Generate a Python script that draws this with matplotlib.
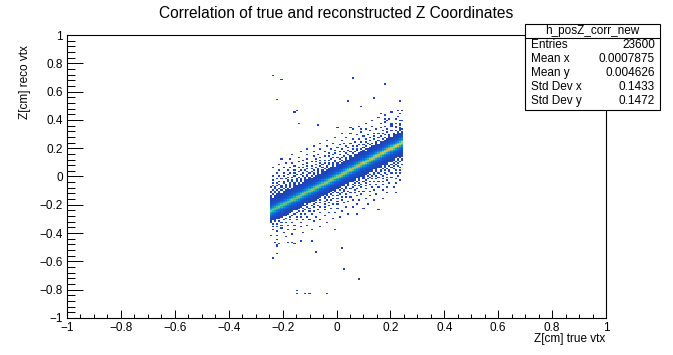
import numpy as np
import matplotlib
matplotlib.use('Agg')
import matplotlib.pyplot as plt
from matplotlib.colors import LinearSegmentedColormap
from matplotlib.patches import Rectangle
from matplotlib.lines import Line2D
from matplotlib.ticker import MultipleLocator, FuncFormatter

plt.rcParams['font.family'] = ['Liberation Sans', 'DejaVu Sans']

# TH2 binning
n_xbins = 250
n_ybins = 200

# band of well reconstructed vertices
band_x = [-0.25, 0.0, 0.25]
band_y = [-0.250, -0.005, 0.245]
band_peak = [55, 65, 78]     # counts in hottest cell of a column
z_max = 95

# core shape: fraction of peak vs |reco - band centre|
core_dr = [0.00, 0.01, 0.02, 0.03, 0.04, 0.05, 0.06, 0.07, 0.08, 0.09]
core_rel = [1.00, 0.75, 0.40, 0.18, 0.08, 0.04, 0.022, 0.012, 0.005, 0.0]

# wide halo of badly reconstructed ones (mean entries per cell)
halo_y = [-0.205, -0.005, 0.21]
halo_dr = [0.00, 0.05, 0.10, 0.15, 0.20, 0.25, 0.30, 0.35, 0.40]
halo_n = [0.70, 0.62, 0.42, 0.25, 0.15, 0.09, 0.05, 0.02, 0.0]

# isolated entries far from the band
out_x = [-0.238, -0.203, 0.061, 0.181, -0.223, -0.150, -0.154, -0.138, -0.064, 0.046,
         0.140, 0.096, 0.236, 0.240, 0.236, 0.160, 0.181, 0.190, 0.002, 0.056,
         0.096, 0.201, 0.217, 0.233, 0.242, 0.236,
         -0.228, -0.213, -0.216, -0.179, -0.159, -0.094, -0.223, -0.233, -0.073, 0.022,
         0.032, 0.086, -0.148, -0.148, -0.118, -0.098, -0.034]
out_y = [0.717, 0.689, 0.698, 0.656, 0.541, 0.465, 0.451, 0.376, 0.364, 0.536,
         0.550, 0.491, 0.531, 0.465, 0.442, 0.442, 0.404, 0.394, 0.341, 0.343,
         0.331, 0.364, 0.359, 0.376, 0.399, 0.334,
         -0.468, -0.477, -0.500, -0.470, -0.477, -0.451, -0.548, -0.571, -0.531, -0.503,
         -0.654, -0.729, -0.807, -0.830, -0.830, -0.825, -0.830]

stats_names = ['Entries', 'Mean x', 'Mean y', 'Std Dev x', 'Std Dev y']
stats_vals = ['23600', '0.0007875', '0.004626', '0.1433', '0.1472']

# ROOT kBird palette
bird_r = [0.2082, 0.0592, 0.0780, 0.0232, 0.1802, 0.5301, 0.8186, 0.9956, 0.9764]
bird_g = [0.1664, 0.3599, 0.5041, 0.6419, 0.7178, 0.7492, 0.7328, 0.7862, 0.9832]
bird_b = [0.5293, 0.8684, 0.8385, 0.7914, 0.6425, 0.4662, 0.3499, 0.1968, 0.0539]
bird = LinearSegmentedColormap.from_list('bird', list(zip(bird_r, bird_g, bird_b)))

# expected entries per cell
xe = np.linspace(-1, 1, n_xbins + 1)
ye = np.linspace(-1, 1, n_ybins + 1)
xc = 0.5 * (xe[1:] + xe[:-1])
yc = 0.5 * (ye[1:] + ye[:-1])
X, Y = np.meshgrid(xc, yc)
inside = np.abs(X) < 0.25
cen = np.interp(X, band_x, band_y)
peak = np.interp(X, band_x, band_peak)
core = peak * np.interp(np.abs(Y - cen), core_dr, core_rel, right=0)
hc = np.interp(X, band_x, halo_y)
halo = np.interp(np.abs(Y - hc), halo_dr, halo_n, right=0)
expect = np.where(inside, core + halo, 0.0)

# bins hold whole entries: round with error diffusion (serpentine)
counts = np.zeros_like(expect)
err = expect.copy()
cols = list(np.where(inside[0])[0])
lo, hi = cols[0], cols[-1]
for k, j in enumerate(range(n_ybins - 1, -1, -1)):
    d = 1 if k % 2 == 0 else -1
    for i in (cols if d == 1 else cols[::-1]):
        v = err[j, i]
        q = np.floor(v + 0.5)
        counts[j, i] = q
        e = v - q
        if lo <= i + d <= hi:
            err[j, i + d] += e * 7 / 16
        if j > 0:
            if lo <= i - d <= hi:
                err[j - 1, i - d] += e * 3 / 16
            err[j - 1, i] += e * 5 / 16
            if lo <= i + d <= hi:
                err[j - 1, i + d] += e * 1 / 16
counts += np.histogram2d(out_y, out_x, bins=[ye, xe])[0]

level = np.where(counts > 0, 0.07 + 0.93 * np.clip((counts - 1) / (z_max - 1), 0, 1), 0)
rgba = bird(level)
rgba[..., 3] = (counts > 0).astype(float)

fig = plt.figure(figsize=(6.73, 3.55), dpi=100)
ax = fig.add_axes([67/673, 1 - 318/355, (606-67)/673, (318-35)/355])
ax.imshow(rgba, extent=(-1, 1, -1, 1), origin='lower', interpolation='nearest', aspect='auto')
ax.set_xlim(-1, 1)
ax.set_ylim(-1, 1)

fmt = FuncFormatter(lambda v, p: ('%g' % round(v, 3)).replace('-', '\u2212') if abs(v) > 1e-9 else '0')
ax.xaxis.set_major_locator(MultipleLocator(0.2))
ax.xaxis.set_minor_locator(MultipleLocator(0.05))
ax.yaxis.set_major_locator(MultipleLocator(0.2))
ax.yaxis.set_minor_locator(MultipleLocator(0.04))
ax.xaxis.set_major_formatter(fmt)
ax.yaxis.set_major_formatter(fmt)
ax.tick_params(which='both', direction='in', top=False, right=False, labelsize=8.5, width=0.7)
ax.tick_params(axis='x', which='major', length=6.1, pad=3)
ax.tick_params(axis='x', which='minor', length=2.9)
ax.tick_params(axis='y', which='major', length=11.5, pad=3)
ax.tick_params(axis='y', which='minor', length=5.8)
for s in ax.spines.values():
    s.set_linewidth(0.8)

fig.text(0.5, 1 - 13/355, 'Correlation of true and reconstructed Z Coordinates',
         ha='center', va='center', fontsize=11.2)
fig.text(605/673, 1 - 339/355, 'Z[cm] true vtx', ha='right', va='center', fontsize=8.5)
fig.text(25/673, 1 - 45/355, 'Z[cm] reco vtx', ha='center', va='top', rotation=90, fontsize=8.5)

# stats box
bx0, bx1, by0, by1 = 525/673, 660/673, 1 - 110/355, 1 - 24/355
fig.patches.append(Rectangle((bx0, by0), bx1 - bx0, by1 - by0, transform=fig.transFigure,
                             facecolor='white', edgecolor='black', lw=0.8, zorder=5))
sep = 1 - 38.3/355
fig.lines.append(Line2D([bx0, bx1], [sep, sep], transform=fig.transFigure, color='black', lw=0.8, zorder=6))
fig.text((bx0 + bx1) / 2, 1 - 31/355, 'h_posZ_corr_new', ha='center', va='center', fontsize=8.5, zorder=7)
row_y = [45, 59, 73, 86.7, 100.5]
for name, val, yy in zip(stats_names, stats_vals, row_y):
    fig.text(531/673, 1 - yy/355, name, ha='left', va='center', fontsize=8.5, zorder=7)
    fig.text(655/673, 1 - yy/355, val, ha='right', va='center', fontsize=8.5, zorder=7)

fig.savefig('out.png', dpi=100)
